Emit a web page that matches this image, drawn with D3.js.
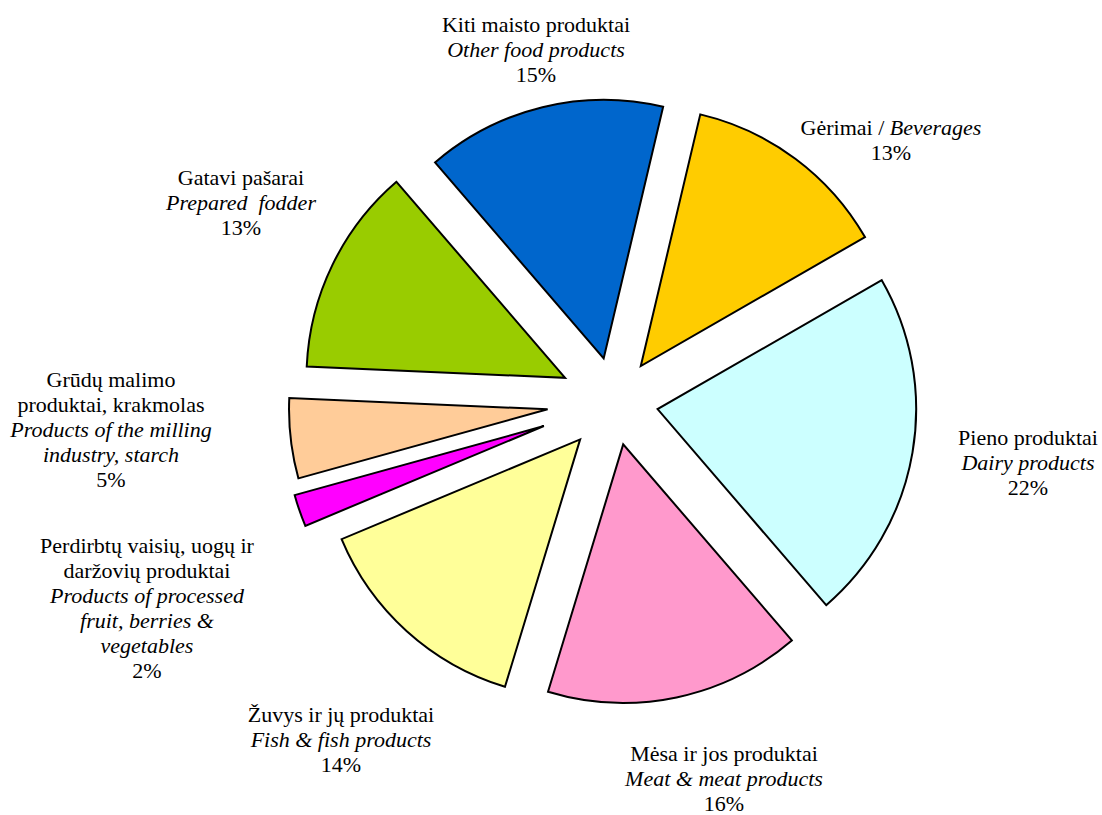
<!DOCTYPE html>
<html>
<head>
<meta charset="utf-8">
<script src="https://cdn.jsdelivr.net/npm/d3@7"></script>
<style>
  html, body { margin: 0; padding: 0; background: #fff; }
  svg { display: block; }
  text { font-family: "Liberation Serif", "Times New Roman", serif; font-size: 22px; fill: #000; white-space: pre; }
</style>
</head>
<body>
<svg id="chart" width="1102" height="815"></svg>
<script>
// ---- Data ----
const categoriesLt = [
  ["Gėrimai / "],
  ["Pieno produktai"],
  ["Mėsa ir jos produktai"],
  ["Žuvys ir jų produktai"],
  ["Perdirbtų vaisių, uogų ir", "daržovių produktai"],
  ["Grūdų malimo", "produktai, krakmolas"],
  ["Gatavi pašarai"],
  ["Kiti maisto produktai"]
];
const categoriesEn = [
  ["Beverages"],
  ["Dairy products"],
  ["Meat & meat products"],
  ["Fish & fish products"],
  ["Products of processed", "fruit, berries &", "vegetables"],
  ["Products of the milling", "industry, starch"],
  ["Prepared  fodder"],
  ["Other food products"]
];
const shares = [13, 22, 16, 14, 2, 5, 13, 15];

// ---- Styles / layout ----
const colors = ["#FFCC00", "#CCFFFF", "#FF99CC", "#FFFF99", "#FF00FF", "#FFCC99", "#99CC00", "#0066CC"];
const explode = [44.5, 44, 43.6, 50.8, 74.4, 67, 54.6, 44.5];
const labelAnchors = [[891, 135], [1028, 445], [724, 761], [341, 722], [147, 553], [111, 387], [241, 185], [536, 31.5]];
const inlineEn = [true, false, false, false, false, false, false, false];

const cx = 614.2, cy = 401.7, R = 258.6, lineH = 25;
const startDeg = 13.3;

const svg = d3.select("#chart");
const g = svg.append("g").attr("transform", `translate(${cx},${cy})`);

const pie = d3.pie().sort(null).value(d => d)
  .startAngle(startDeg * Math.PI / 180)
  .endAngle(startDeg * Math.PI / 180 + 2 * Math.PI);
const arcs = pie(shares);
const arc = d3.arc().innerRadius(0).outerRadius(R);

g.selectAll("path.slice").data(arcs).join("path")
  .attr("class", "slice")
  .attr("d", arc)
  .attr("fill", (d, i) => colors[i])
  .attr("stroke", "#000")
  .attr("stroke-width", 2)
  .attr("stroke-linejoin", "miter")
  .attr("transform", (d, i) => {
    const a = (d.startAngle + d.endAngle) / 2;
    return `translate(${explode[i] * Math.sin(a)},${-explode[i] * Math.cos(a)})`;
  });

// ---- Labels ----
shares.forEach((v, i) => {
  const [lx, ly] = labelAnchors[i];
  const t = svg.append("text").attr("text-anchor", "middle");
  let line = 0;
  if (inlineEn[i]) {
    const ts = t.append("tspan").attr("x", lx).attr("y", ly + line * lineH);
    ts.append("tspan").text(categoriesLt[i][0]);
    ts.append("tspan").attr("font-style", "italic").text(categoriesEn[i][0]);
    line++;
  } else {
    categoriesLt[i].forEach(s => {
      t.append("tspan").attr("x", lx).attr("y", ly + line * lineH).text(s);
      line++;
    });
    categoriesEn[i].forEach(s => {
      t.append("tspan").attr("x", lx).attr("y", ly + line * lineH).attr("font-style", "italic").text(s);
      line++;
    });
  }
  t.append("tspan").attr("x", lx).attr("y", ly + line * lineH).text(v + "%");
});
</script>
</body>
</html>
